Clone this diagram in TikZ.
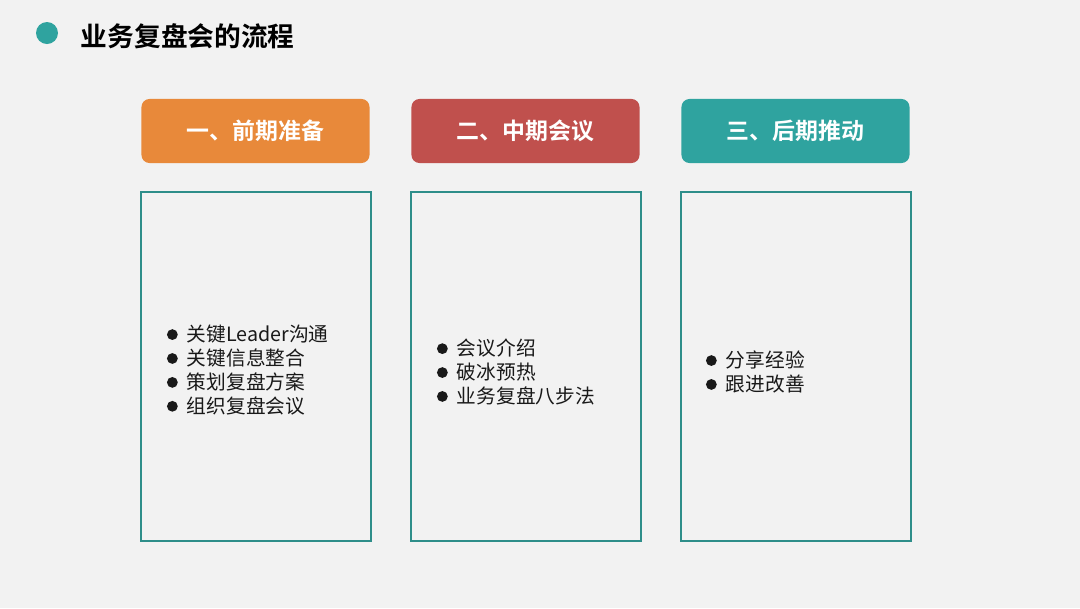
\documentclass[tikz,border=0pt]{standalone}
\usepackage{fontspec}
\setmainfont{Noto Sans CJK SC}
\newfontfamily\cjkbold{Noto Sans CJK SC Bold}
\usepackage{xcolor}
\usetikzlibrary{positioning}
\definecolor{bgGray}{HTML}{F2F2F2}
\definecolor{cOrange}{HTML}{E8893A}
\definecolor{cRed}{HTML}{C0504D}
\definecolor{cTeal}{HTML}{2FA39F}
\definecolor{cFrame}{HTML}{2E8E8A}
\newcommand{\itm}[1]{\makebox[0.5cm][l]{\raisebox{0.15ex}{\tikz\fill (0,0) circle (0.135cm);}}#1}
\tikzset{
  head/.style={rounded corners=0.2cm, minimum width=5.7cm, minimum height=1.6cm,
    text=white, font=\cjkbold\fontsize{16.3pt}{19pt}\selectfont},
  frame/.style={draw=cFrame, line width=1.4pt, minimum width=5.75cm, minimum height=8.7cm},
  items/.style={align=left, text=black!90, font=\fontsize{14pt}{17pt}\selectfont}
}
\begin{document}
\begin{tikzpicture}[x=0.025cm, y=-0.025cm]
    % --- nền và khung hình ---
    \fill[bgGray] (0,0) rectangle (1080,608);
    \useasboundingbox (0,0) rectangle (1080,608);

    % --- tiêu đề ---
    \fill[cTeal] (47,33) circle (11);
    \node[anchor=west, font=\cjkbold\fontsize{19pt}{22pt}\selectfont] (title) at (76,36) {业务复盘会的流程};

    % --- ba ô tiêu đề giai đoạn ---
    \node[head, fill=cOrange] (hdA) at (255.5,131) {一、前期准备};
    \node[head, fill=cRed]    (hdB) at (525.5,131) {二、中期会议};
    \node[head, fill=cTeal]   (hdC) at (795.5,131) {三、后期推动};

    % --- ba khung nội dung ---
    \node[frame] (boxA) at (256,366.5) {};
    \node[frame] (boxB) at (526,366.5) {};
    \node[frame] (boxC) at (796,366.5) {};

    % --- danh sách ---
    \node[items, anchor=west] (listA) at (162,370) {\itm{关键Leader沟通}\\ \itm{关键信息整合}\\ \itm{策划复盘方案}\\ \itm{组织复盘会议}};
    \node[items, anchor=west] (listB) at (432,372) {\itm{会议介绍}\\ \itm{破冰预热}\\ \itm{业务复盘八步法}};
    \node[items, anchor=west] (listC) at (701,372) {\itm{分享经验}\\ \itm{跟进改善}};
\end{tikzpicture}
\end{document}
